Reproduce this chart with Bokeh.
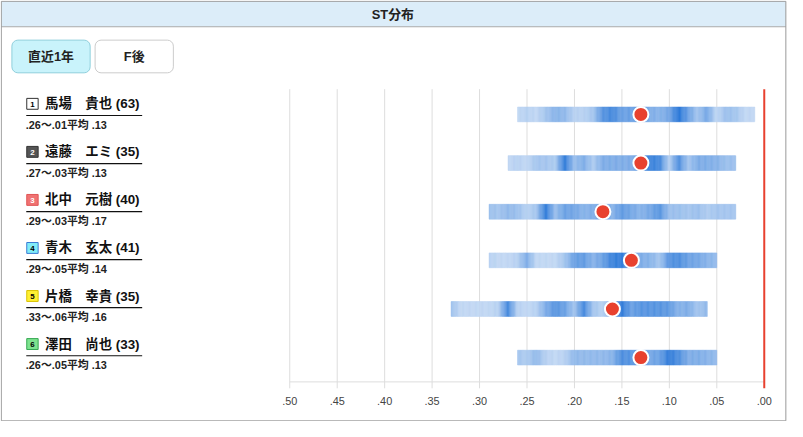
import numpy as np
from bokeh.plotting import figure
from bokeh.models import Range1d
from bokeh.core.properties import value
from bokeh.embed import file_html
from bokeh.resources import INLINE

# ---------------- data ----------------
lane_nums = ["1", "2", "3", "4", "5", "6"]
names = ["馬場　貴也", "遠藤　エミ", "北中　元樹", "青木　玄太", "片橋　幸貴", "澤田　尚也"]
counts = [63, 35, 40, 41, 35, 33]
st_max = [0.26, 0.27, 0.29, 0.29, 0.33, 0.26]
st_min = [0.01, 0.03, 0.03, 0.05, 0.06, 0.05]
st_avg = [0.13, 0.13, 0.17, 0.14, 0.16, 0.13]

# heat intensity (0..1) at each 0.01 step from st_max down to st_min
heat_1 = [0.15, 0.2, 0.15, 0.3, 0.45, 0.4, 0.2, 0.2, 0.3, 0.7, 0.8, 0.6, 0.6, 0.6, 0.5, 0.45, 0.55, 0.95, 0.6, 0.3, 0.55, 0.15, 0.35, 0.3, 0.15, 0.15]
heat_2 = [0.15, 0.2, 0.15, 0.3, 0.3, 0.25, 0.9, 0.35, 0.5, 0.25, 0.5, 0.5, 0.5, 0.5, 0.6, 0.85, 0.8, 0.2, 0.75, 0.3, 0.5, 0.5, 0.45, 0.35, 0.35]
heat_3 = [0.35, 0.3, 0.4, 0.35, 0.2, 0.3, 0.9, 0.35, 0.6, 0.55, 0.45, 0.5, 0.55, 0.45, 0.65, 0.55, 0.45, 0.55, 0.7, 0.35, 0.35, 0.3, 0.35, 0.25, 0.3, 0.3, 0.3]
heat_4 = [0.2, 0.15, 0.15, 0.2, 0.5, 0.15, 0.15, 0.15, 0.3, 0.6, 0.65, 0.45, 0.6, 0.85, 0.9, 0.55, 0.5, 0.45, 0.3, 0.7, 0.75, 0.6, 0.55, 0.45, 0.4]
heat_5 = [0.35, 0.15, 0.15, 0.15, 0.15, 0.2, 0.8, 0.2, 0.15, 0.2, 0.5, 0.7, 0.6, 0.3, 0.8, 0.3, 0.2, 0.5, 0.9, 0.6, 0.7, 0.7, 0.7, 0.65, 0.45, 0.5, 0.3, 0.4]
heat_6 = [0.3, 0.25, 0.4, 0.2, 0.15, 0.2, 0.4, 0.4, 0.4, 0.4, 0.45, 0.75, 0.7, 0.6, 0.55, 0.6, 0.9, 0.75, 0.5, 0.5, 0.45, 0.4]
heats = [heat_1, heat_2, heat_3, heat_4, heat_5, heat_6]

tick_values = [0.50, 0.45, 0.40, 0.35, 0.30, 0.25, 0.20, 0.15, 0.10, 0.05, 0.00]
tick_labels = [".50", ".45", ".40", ".35", ".30", ".25", ".20", ".15", ".10", ".05", ".00"]

title_text = "ST分布"
button_labels = ["直近1年", "F後"]

# ---------------- styles / layout ----------------
W, H = 787, 421
SC = 0.9906           # layout scale (reference px -> canvas px)
OX, OY = 4.5, 8.0     # reference offset of the outer box
FONT = value("Liberation Sans, Noto Sans CJK JP")
LIGHT = np.array([221, 233, 248])
DARK = np.array([30, 112, 214])
RED = "#e8412f"
box_fill = ["#ffffff", "#555555", "#f07272", "#80ecf8", "#fff033", "#7de38f"]
box_line = ["#333333", "#333333", "#e05555", "#3a7bd5", "#d9c200", "#35a852"]
box_text = ["#000000", "#ffffff", "#ffffff", "#000000", "#000000", "#000000"]

PX_PER_UNIT = 958.0   # reference pixels per 1.00 of ST
X0_REF = 775.0        # reference x of ST .00
ROW0_REF = 122.5      # reference y of first bar centre
ROW_PX = 49.1         # reference pixels between rows
LABEL0_REF = 111.8
LABEL_PX = 48.5
BAR_H_PX = 15.0


def X(rx):
    return (X0_REF - rx) / PX_PER_UNIT


def Y(ry):
    return (ry - ROW0_REF) / ROW_PX


def ref_x(fx):
    return (fx - 0.5) / SC + OX


def ref_y(fy):
    return (fy - 0.5) / SC + OY


def fs(px):
    return "%.1fpx" % (px * SC)


def mix(t):
    c = LIGHT + (DARK - LIGHT) * t
    return "#%02x%02x%02x" % tuple(int(round(v)) for v in c)


p = figure(width=W, height=H, output_backend="svg", toolbar_location=None,
           x_range=Range1d(X(ref_x(0)), X(ref_x(W))), y_range=Range1d(Y(ref_y(H)), Y(ref_y(0))),
           x_axis_type=None, y_axis_type=None, min_border=0)
p.grid.visible = False
p.outline_line_color = None
p.background_fill_color = "white"
p.border_fill_color = "white"

# header band and outer box
p.quad(left=X(4.8), right=X(796.8), top=Y(8.3), bottom=Y(34), fill_color="#dcedf9", line_color=None)
p.segment(x0=X(4.8), x1=X(796.8), y0=Y(34), y1=Y(34), line_color="#aaaaaa", line_width=1)
p.quad(left=X(4.8), right=X(796.8), top=Y(8.3), bottom=Y(431.8), fill_color=None, line_color="#999999", line_width=1)
p.text(x=[X(400)], y=[Y(21.5)], text=[title_text], text_font=FONT, text_font_size=fs(13),
       text_font_style="bold", text_align="center", text_baseline="middle", text_color="#222222")

# buttons
btn_left = [15, 99]
btn_fill = ["#c9f3fb", "#ffffff"]
btn_line = ["#8fcfdc", "#cccccc"]
for i, lab in enumerate(button_labels):
    p.quad(left=X(btn_left[i] + 0.5), right=X(btn_left[i] + 79.5), top=Y(47.5), bottom=Y(80.5),
           fill_color=btn_fill[i], line_color=btn_line[i], line_width=1, border_radius=6)
    p.text(x=[X(btn_left[i] + 40)], y=[Y(64)], text=[lab], text_font=FONT, text_font_size=fs(13),
           text_font_style="bold", text_align="center", text_baseline="middle", text_color="#222222")

# grid lines, axis line, tick labels
grid_ticks = [t for t in tick_values if t > 0]
p.segment(x0=grid_ticks, x1=grid_ticks, y0=[Y(97)] * len(grid_ticks), y1=[Y(399)] * len(grid_ticks),
          line_color="#dddddd", line_width=1)
p.segment(x0=[max(tick_values)], x1=[min(tick_values)], y0=[Y(392.5)], y1=[Y(392.5)],
          line_color="#dddddd", line_width=1)
p.text(x=tick_values, y=[Y(411.5)] * len(tick_values), text=tick_labels, text_font=FONT,
       text_font_size=fs(11), text_align="center", text_baseline="middle", text_color="#444444")
p.segment(x0=[0.0], x1=[0.0], y0=[Y(97)], y1=[Y(399)], line_color=RED, line_width=2)

# heat bars
half = BAR_H_PX / 2 / ROW_PX
SUB = 8
for r, heat in enumerate(heats):
    stops = st_max[r] - 0.01 * np.arange(len(heat))
    L, R, C = [], [], []
    for k in range(len(heat) - 1):
        for s in range(SUB):
            a, b = s / SUB, (s + 1) / SUB
            L.append(stops[k] - a * 0.01)
            R.append(stops[k] - b * 0.01)
            t = heat[k] + (heat[k + 1] - heat[k]) * (a + b) / 2
            C.append(mix(t))
    p.quad(left=L, right=R, top=[r - half] * len(L), bottom=[r + half] * len(L),
           fill_color=C, line_color=C, line_width=0.5)

# average markers
p.scatter(x=st_avg, y=list(range(len(st_avg))), size=15, fill_color=RED, line_color="white", line_width=2)

# left labels
fmt = lambda v: ("%.2f" % v)[1:]
for i in range(len(names)):
    cy = LABEL0_REF + LABEL_PX * i
    p.quad(left=X(30.5), right=X(42), top=Y(cy - 5.5), bottom=Y(cy + 5.5),
           fill_color=box_fill[i], line_color=box_line[i], line_width=1)
    p.text(x=[X(36.2)], y=[Y(cy + 0.5)], text=[lane_nums[i]], text_font=FONT, text_font_size=fs(8),
           text_font_style="bold", text_align="center", text_baseline="middle", text_color=box_text[i])
    p.text(x=[X(49)], y=[Y(cy)], text=[f"{names[i]} ({counts[i]})"], text_font=FONT,
           text_font_size=fs(13.5), text_font_style="bold", text_align="left", text_baseline="middle",
           text_color="#111111")
    p.segment(x0=[X(30)], x1=[X(147)], y0=[Y(cy + 11.8)], y1=[Y(cy + 11.8)], line_color="#111111", line_width=1.2)
    p.text(x=[X(29.5)], y=[Y(cy + 21.5)], text=[f"{fmt(st_max[i])}〜{fmt(st_min[i])}平均 {fmt(st_avg[i])}"],
           text_font=FONT, text_font_size=fs(11), text_font_style="bold", text_align="left",
           text_baseline="middle", text_color="#222222")

open("out.html", "w").write(file_html(p, INLINE))
